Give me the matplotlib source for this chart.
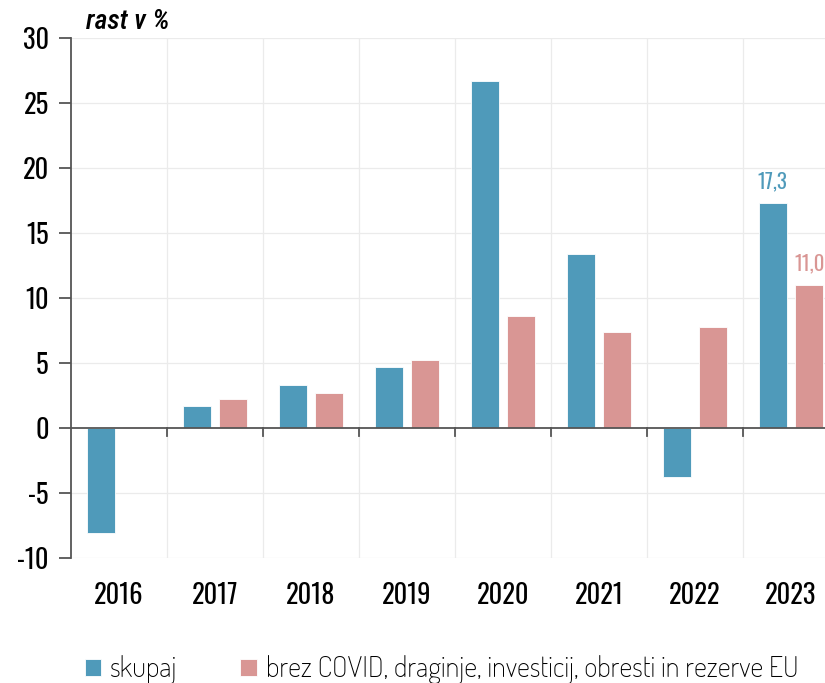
import matplotlib.pyplot as plt
import numpy as np

plt.rcParams['font.family'] = ['Oswald', 'Roboto Condensed', 'DejaVu Sans']

years = ['2016', '2017', '2018', '2019', '2020', '2021', '2022', '2023']
skupaj = [-8.1, 1.7, 3.3, 4.7, 26.7, 13.4, -3.8, 17.3]
brez = [0.1, 2.2, 2.7, 5.2, 8.6, 7.4, 7.8, 11.0]

c_blue = '#4f9aba'
c_pink = '#d99694'

fig = plt.figure(figsize=(8.25, 6.83), dpi=100)
ax = fig.add_axes([71/825, 1-558/683, 768/825, 520/683])

x = np.arange(len(years))
w = 0.29
ax.bar(x - 0.19, skupaj, w, color=c_blue, edgecolor='white', linewidth=0.6, label='skupaj', zorder=3)
ax.bar(x + 0.19, brez, w, color=c_pink, edgecolor='white', linewidth=0.6,
       label='brez COVID, draginje, investicij, obresti in rezerve EU', zorder=3)

ax.text(x[-1] - 0.19, skupaj[-1] + 0.9, '17,3', color=c_blue, ha='center', va='bottom',
        fontsize=15, weight=300)
ax.text(x[-1] + 0.19, brez[-1] + 0.9, '11,0', color=c_pink, ha='center', va='bottom',
        fontsize=15, weight=300)

ax.set_xlim(-0.5, 7.5)
ax.set_ylim(-10, 30)
ax.set_yticks(range(-10, 31, 5))
ax.set_yticklabels([str(v) for v in range(-10, 31, 5)], fontsize=19, weight=500)
ax.tick_params(axis='y', direction='out', length=9, width=1.3, color='#555555', pad=7)

# horizontal grid
for v in range(-10, 31, 5):
    if v != 0:
        ax.axhline(v, color='#ebebeb', linewidth=0.9, zorder=0)
# vertical grid at category boundaries
for b in np.arange(0.5, 7.5, 1):
    ax.axvline(b, color='#ebebeb', linewidth=0.9, zorder=0)
    ax.plot([b, b], [0, -0.6], color='#555555', linewidth=1.3, zorder=4)

ax.axhline(0, color='#555555', linewidth=1.3, zorder=4)

ax.set_xticks(x)
ax.set_xticklabels(years, fontsize=19, weight=500)
ax.tick_params(axis='x', length=0, pad=17)

for s in ['top', 'right', 'bottom']:
    ax.spines[s].set_visible(False)
ax.spines['left'].set_color('#555555')
ax.spines['left'].set_linewidth(1.3)

ax.text(0.02, 1.006, 'rast v %', transform=ax.transAxes, fontsize=20, style='italic',
        weight=500, family=['Roboto Condensed', 'DejaVu Sans'], ha='left', va='bottom')

fig.legend(loc='center left', bbox_to_anchor=(85/825, 1-670/683), ncol=2, frameon=False,
           prop={'family': ['Dosis', 'Roboto Condensed', 'DejaVu Sans'], 'weight': 600, 'size': 20.5},
           borderpad=0, borderaxespad=0,
           handlelength=0.57, handleheight=0.53, handletextpad=0.32, columnspacing=2.2)

fig.savefig('out.png', dpi=100)
